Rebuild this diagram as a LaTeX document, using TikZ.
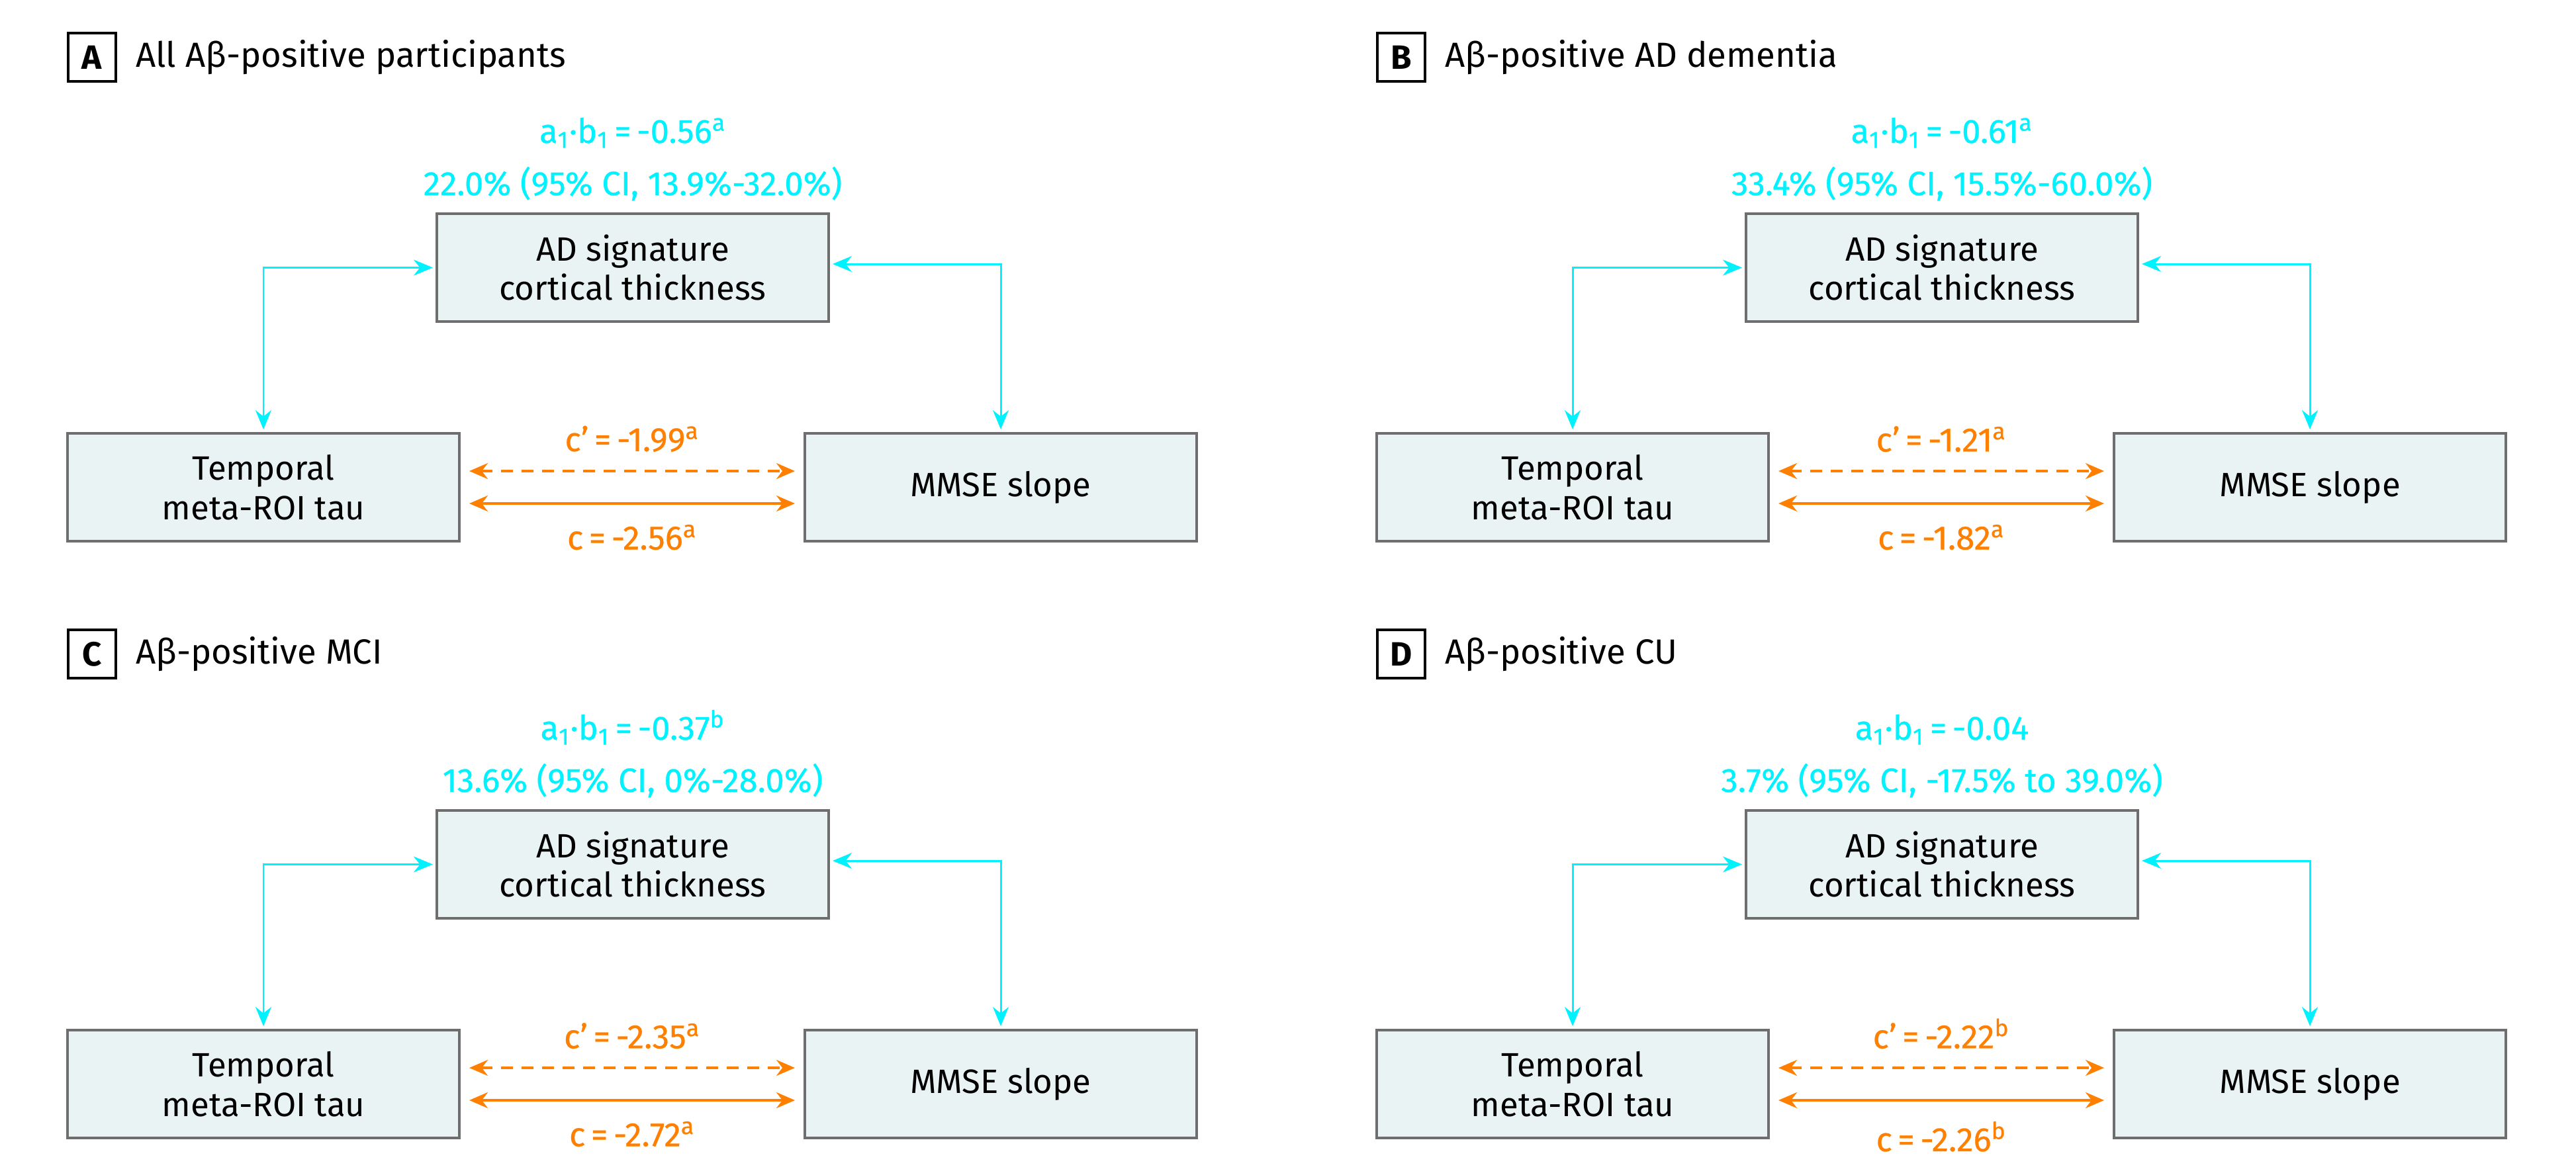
\documentclass[tikz,border=0pt]{standalone}
\usepackage{fontspec}
\setmainfont{Fira Sans}
\newfontfamily\valfont[FakeBold=0.5]{Fira Sans}
\usepackage{tikz}
\usetikzlibrary{arrows.meta,positioning,calc}
\definecolor{mcyan}{HTML}{00F2FF}
\definecolor{morange}{HTML}{FF8000}
\definecolor{mfill}{HTML}{E9F3F4}
\definecolor{mgray}{HTML}{6E6E6E}
\newcommand{\figfont}{\fontsize{14.5pt}{17pt}\selectfont}
\tikzset{
  box/.style={draw=mgray,fill=mfill,line width=1.1pt,minimum width=5.92cm,minimum height=1.63cm,align=center,font=\figfont,inner sep=0pt,outer sep=0pt},
  tag/.style={draw=black,line width=0.9pt,minimum width=0.72cm,minimum height=0.73cm,font=\figfont\bfseries,inner sep=0pt,outer sep=0pt},
  ttl/.style={font=\fontsize{15pt}{18pt}\selectfont,inner sep=0pt,outer sep=0pt},
  val/.style={text=mcyan,font=\valfont\figfont,inner sep=0pt,anchor=base},
  eff/.style={text=morange,font=\valfont\figfont,inner sep=0pt},
  carr/.style={{Stealth[length=0.29cm,width=0.24cm]}-{Stealth[length=0.29cm,width=0.24cm]},line width=0.85pt,draw=mcyan,shorten <=0.06cm,shorten >=0.06cm},
  oarr/.style={{Stealth[length=0.28cm,width=0.24cm]}-{Stealth[length=0.28cm,width=0.24cm]},line width=1.1pt,draw=morange,shorten <=0.15cm,shorten >=0.15cm},
}
% one panel: shift x, shift y, letter, title, a1*b1, percent, c', c
\newcommand{\medpanel}[8]{%
  \begin{scope}[shift={(#1,#2)}]
    \node[tag] (tag#3) at (1.39,-0.865) {#3};
    \node[ttl,right=0.3cm of tag#3] (ttl#3) {#4};
    \node[box] (ad#3) at (9.56,-4.045) {AD signature\\cortical thickness};
    \node[box,below left=1.69cm and -0.34cm of ad#3] (tau#3) {Temporal\\meta-ROI tau};
    \node[box,below right=1.69cm and -0.36cm of ad#3] (mmse#3) {MMSE slope};
    \node[val] (pct#3) at ([yshift=0.28cm]ad#3.north) {#6};
    \node[val] (ab#3) at ([yshift=0.79cm]pct#3.base) {a\textsubscript{1}·b\textsubscript{1}\,=\,#5};
    \draw[carr] (ad#3.west) -| (tau#3.north);
    \draw[carr] ([yshift=0.055cm]ad#3.east) -| (mmse#3.north);
    \draw[oarr,dash pattern=on 0.18cm off 0.13cm] ([yshift=0.245cm]tau#3.east) -- node[eff,midway,above=0.27cm] (cp#3) {c’\,=\,#7} ([yshift=0.245cm]mmse#3.west);
    \draw[oarr] ([yshift=-0.245cm]tau#3.east) -- node[eff,midway,below=0.3cm] (c#3) {c\,=\,#8} ([yshift=-0.245cm]mmse#3.west);
  \end{scope}}

\begin{document}
\begin{tikzpicture}
  \useasboundingbox (0,0) rectangle (38.92,-17.75);
  \medpanel{0}{0}{A}{All Aβ-positive participants}{-0.56\textsuperscript{a}}{22.0\% (95\% CI, 13.9\%-32.0\%)}{-1.99\textsuperscript{a}}{-2.56\textsuperscript{a}}
  \medpanel{19.78}{0}{B}{Aβ-positive AD dementia}{-0.61\textsuperscript{a}}{33.4\% (95\% CI, 15.5\%-60.0\%)}{-1.21\textsuperscript{a}}{-1.82\textsuperscript{a}}
  \medpanel{0}{-9.02}{C}{Aβ-positive MCI}{-0.37\textsuperscript{b}}{13.6\% (95\% CI, 0\%-28.0\%)}{-2.35\textsuperscript{a}}{-2.72\textsuperscript{a}}
  \medpanel{19.78}{-9.02}{D}{Aβ-positive CU}{-0.04}{3.7\% (95\% CI, -17.5\% to 39.0\%)}{-2.22\textsuperscript{b}}{-2.26\textsuperscript{b}}
\end{tikzpicture}
\end{document}
